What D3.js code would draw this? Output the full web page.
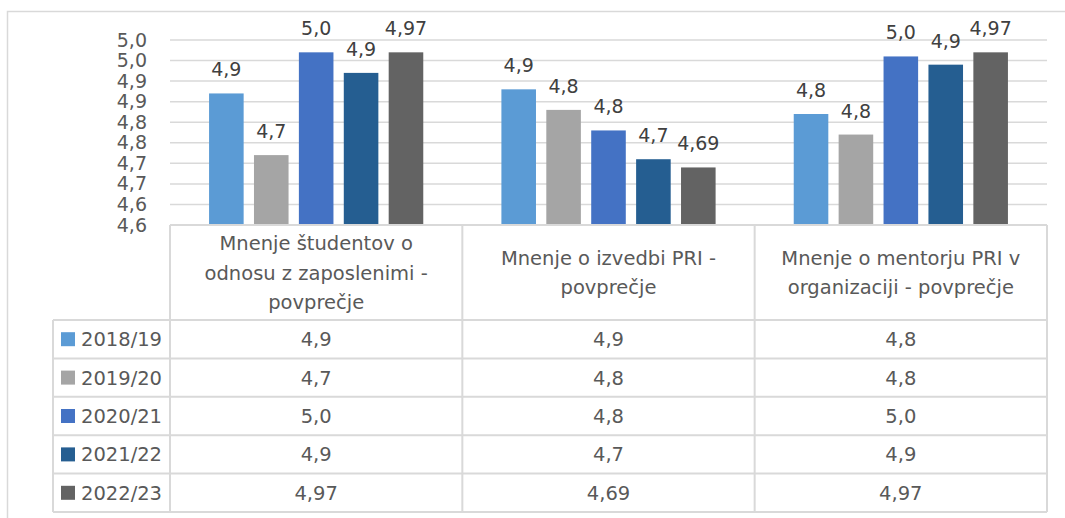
<!DOCTYPE html>
<html>
<head>
<meta charset="utf-8">
<script src="https://cdn.jsdelivr.net/npm/d3@7"></script>
<style>
  body { margin: 0; background: #fff; }
  text { font-family: "DejaVu Sans", sans-serif; }
</style>
</head>
<body>
<script>
const categories = [
  "Mnenje študentov o odnosu z zaposlenimi - povprečje",
  "Mnenje o izvedbi PRI - povprečje",
  "Mnenje o mentorju PRI v organizaciji - povprečje"
]
const seasons = ["2018/19", "2019/20", "2020/21", "2021/22", "2022/23"]
const v2018 = [4.87, 4.88, 4.82]
const v2019 = [4.72, 4.83, 4.77]
const v2020 = [4.97, 4.78, 4.96]
const v2021 = [4.92, 4.71, 4.94]
const v2022 = [4.97, 4.69, 4.97]
const decimals = [1, 1, 1, 1, 2]
const colors = ["#5B9BD5", "#A5A5A5", "#4472C4", "#255E91", "#636363"]
const yDomain = [4.55, 5.0]

const series = [v2018, v2019, v2020, v2021, v2022]

const W = 1065, H = 518
const plot = { left: 170, right: 1047, top: 40, bottom: 225 }
const table = { left: 53, headBottom: 320, rowH: 38.4 }
const grey = "#D9D9D9"

const loc = d3.formatLocale({ decimal: ",", thousands: ".", grouping: [3], currency: ["", "€"] })
// excel style half-up rounding
const fmt = (v, d) => {
  const p = Math.pow(10, d)
  return loc.format(`.${d}f`)(Math.round(v * p + 1e-9) / p)
}

const svg = d3.select('body').append('svg')
  .attr('width', W)
  .attr('height', H)

// outer chart border (left + top visible)
svg.append('path')
  .attr('d', `M7.5,${H}V11.5H${W}`)
  .attr('fill', 'none')
  .attr('stroke', grey)
  .attr('stroke-width', 1.5)

const x0 = d3.scaleBand()
  .domain(categories)
  .range([plot.left, plot.right])

const x1 = d3.scaleBand()
  .domain(seasons)
  .range([0, x0.bandwidth()])
  .paddingInner(0.23)
  .paddingOuter(0.87)

const y = d3.scaleLinear()
  .domain(yDomain)
  .range([plot.bottom, plot.top])

const ticks = d3.range(10).map(i => yDomain[0] + i * 0.05)

//grid
svg.append('g')
  .selectAll('line')
  .data(ticks.slice(1)).enter()
  .append('line')
  .attr('x1', plot.left)
  .attr('x2', plot.right)
  .attr('y1', d => y(d))
  .attr('y2', d => y(d))
  .attr('stroke', grey)
  .attr('stroke-width', 1.5)

//y axis
const yAxis = d3.axisLeft(y)
  .tickValues(ticks)
  .tickSize(0)
  .tickPadding(23)
  .tickFormat(d => fmt(d, 1))
const ya = svg.append('g')
  .attr('transform', `translate(${plot.left},0)`)
  .call(yAxis)
ya.select('.domain').remove()
ya.selectAll('text')
  .attr('font-family', '"DejaVu Sans", sans-serif')
  .attr('font-size', 19)
  .attr('fill', '#595959')

//bars
const groups = svg.append('g')
  .selectAll('g')
  .data(seasons).enter()
  .append('g')
  .attr('fill', (d, i) => colors[i])

groups.selectAll('rect')
  .data((s, i) => series[i].map((v, j) => ({ cat: categories[j], v })))
  .enter()
  .append('rect')
  .attr('x', function (d) { return x0(d.cat) + x1(d3.select(this.parentNode).datum()) })
  .attr('y', d => y(d.v))
  .attr('width', x1.bandwidth())
  .attr('height', d => y(yDomain[0]) - y(d.v))

//data labels
groups.each(function (s, i) {
  d3.select(this).selectAll('text')
    .data(series[i].map((v, j) => ({ cat: categories[j], v })))
    .enter()
    .append('text')
    .attr('x', d => x0(d.cat) + x1(s) + x1.bandwidth() / 2)
    .attr('y', d => y(d.v) - 17)
    .attr('text-anchor', 'middle')
    .attr('font-size', 19)
    .attr('fill', '#404040')
    .text(d => fmt(d.v, decimals[i]))
})

//data table
const tbl = svg.append('g')
  .attr('stroke', grey)
  .attr('stroke-width', 2)
  .attr('fill', 'none')

const rowY = i => table.headBottom + i * table.rowH
const tableBottom = rowY(seasons.length)

tbl.append('line')
  .attr('x1', plot.left).attr('x2', plot.right)
  .attr('y1', plot.bottom).attr('y2', plot.bottom)
d3.range(seasons.length + 1).forEach(i => {
  tbl.append('line')
    .attr('x1', table.left).attr('x2', plot.right)
    .attr('y1', rowY(i)).attr('y2', rowY(i))
})
tbl.append('line')
  .attr('x1', table.left).attr('x2', table.left)
  .attr('y1', table.headBottom).attr('y2', tableBottom)
categories.concat([null]).forEach(c => {
  const xx = c ? x0(c) : plot.right
  tbl.append('line')
    .attr('x1', xx).attr('x2', xx)
    .attr('y1', plot.bottom).attr('y2', tableBottom)
})

//header text, wrapped
const head = svg.append('g')
  .selectAll('text')
  .data(categories).enter()
  .append('text')
  .attr('text-anchor', 'middle')
  .attr('font-size', 19.5)
  .attr('fill', '#595959')

head.each(function (c) {
  const t = d3.select(this)
  const words = c.split(' ')
  const maxW = 262
  let lines = [], cur = []
  const probe = t.append('tspan')
  words.forEach(w => {
    const test = cur.concat([w]).join(' ')
    probe.text(test)
    if (probe.node().getComputedTextLength() > maxW && cur.length) {
      lines.push(cur.join(' '))
      cur = [w]
    } else {
      cur.push(w)
    }
  })
  lines.push(cur.join(' '))
  probe.remove()
  const lh = 29.5
  const cy = (plot.bottom + table.headBottom) / 2
  const y0 = cy - (lines.length - 1) * lh / 2 + 7
  lines.forEach((l, k) => {
    t.append('tspan')
      .attr('x', x0(c) + x0.bandwidth() / 2)
      .attr('y', y0 + k * lh)
      .text(l)
  })
})

//rows
const rows = svg.append('g')
  .selectAll('g')
  .data(seasons).enter()
  .append('g')
  .attr('transform', (d, i) => `translate(0,${rowY(i) + table.rowH / 2})`)

rows.append('rect')
  .attr('x', 61)
  .attr('y', -7)
  .attr('width', 14)
  .attr('height', 14)
  .attr('fill', (d, i) => colors[i])

rows.append('text')
  .attr('x', 81)
  .attr('dy', '0.36em')
  .attr('font-size', 19.5)
  .attr('fill', '#595959')
  .text(d => d)

rows.each(function (s, i) {
  d3.select(this).selectAll('.val')
    .data(series[i]).enter()
    .append('text')
    .attr('class', 'val')
    .attr('x', (v, j) => x0(categories[j]) + x0.bandwidth() / 2)
    .attr('dy', '0.36em')
    .attr('text-anchor', 'middle')
    .attr('font-size', 19.5)
    .attr('fill', '#595959')
    .text(v => fmt(v, decimals[i]))
})
</script>
</body>
</html>
